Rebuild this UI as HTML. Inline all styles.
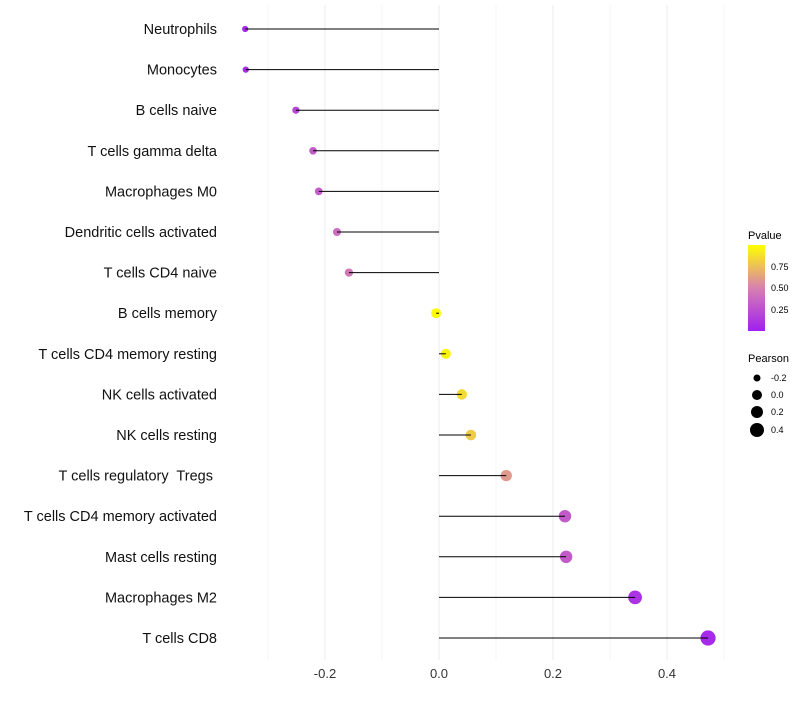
<!DOCTYPE html>
<html><head><meta charset="utf-8"><style>
body{margin:0;background:#fff;font-family:"Liberation Sans",sans-serif}
</style></head><body>
<svg id="c" width="800" height="700" xmlns="http://www.w3.org/2000/svg">
<defs><linearGradient id="pg" x1="0" y1="1" x2="0" y2="0">
<stop offset="0" stop-color="#A020F0"/><stop offset="0.5" stop-color="#D880B0"/><stop offset="1" stop-color="#FFFF00"/></linearGradient></defs>
<g id="grid"></g><g id="marks"></g><g id="labels"></g>
<g font-size="10">
<text x="748" y="239" font-size="11">Pvalue</text>
<rect x="748" y="245" width="17" height="86" fill="url(#pg)"/>
<text x="771" y="270" font-size="9">0.75</text>
<text x="771" y="291" font-size="9">0.50</text>
<text x="771" y="313" font-size="9">0.25</text>
</g>
<g>
<text x="748" y="362" font-size="11">Pearson</text>
<circle cx="757" cy="378" r="3.5"/><text x="771" y="381" font-size="9">-0.2</text>
<circle cx="757" cy="395" r="5"/><text x="771" y="398" font-size="9">0.0</text>
<circle cx="757" cy="412" r="6"/><text x="771" y="415" font-size="9">0.2</text>
<circle cx="757" cy="430" r="7"/><text x="771" y="433" font-size="9">0.4</text>
</g>
</svg>
<script>
const categories=["Neutrophils","Monocytes","B cells naive","T cells gamma delta","Macrophages M0","Dendritic cells activated","T cells CD4 naive","B cells memory","T cells CD4 memory resting","NK cells activated","NK cells resting","T cells regulatory  Tregs ","T cells CD4 memory activated","Mast cells resting","Macrophages M2","T cells CD8"];
const pearson=[-0.34,-0.339,-0.251,-0.221,-0.211,-0.179,-0.158,-0.005,0.012,0.040,0.056,0.118,0.221,0.223,0.344,0.472];
const pvalue=[0.05,0.06,0.2,0.3,0.32,0.4,0.45,0.98,0.95,0.85,0.8,0.6,0.3,0.3,0.1,0.05];
const xTicks=[-0.2,0.0,0.2,0.4];
const xTickLabels=["-0.2","0.0","0.2","0.4"];
const NS="http://www.w3.org/2000/svg";
const X=v=>439+v*570;
const Y=i=>29+i*40.6;
const R=v=>Math.max(2,5+5.5*v);
function mix(a,b,t){return a.map((x,k)=>Math.round(x+(b[k]-x)*t));}
function col(p){const s=[[160,32,240],[216,128,176],[255,255,0]];const c=p<0.5?mix(s[0],s[1],p/0.5):mix(s[1],s[2],(p-0.5)/0.5);return`rgb(${c})`;}
function mk(t,a,parent){const e=document.createElementNS(NS,t);for(const k in a)e.setAttribute(k,a[k]);parent.appendChild(e);return e;}
const grid=document.getElementById('grid'),marks=document.getElementById('marks'),labels=document.getElementById('labels');
for(let k=-3;k<=5;k++){const v=k/10;const g=mk('line',{x1:X(v),x2:X(v),y1:5,y2:660,stroke:(k%2===0)?'#ebebeb':'#f4f4f4','stroke-width':1},grid);

}
xTicks.forEach((v,i)=>{const t=mk('text',{x:X(v),y:678,'text-anchor':'middle','font-size':13,fill:'#333'},labels);t.textContent=xTickLabels[i];

});
categories.forEach((c,i)=>{
const t=mk('text',{x:217,y:Y(i)+5,'text-anchor':'end','font-size':14.5,fill:'#111',style:'white-space:pre'},labels);t.textContent=c;


const dot=mk('circle',{cx:X(pearson[i]),cy:Y(i),r:R(pearson[i]),fill:col(pvalue[i])},marks);


const l=mk('line',{x1:X(0),x2:X(pearson[i]),y1:Y(i),y2:Y(i),stroke:'#000','stroke-width':1},marks);


});
</script>
</body></html>
